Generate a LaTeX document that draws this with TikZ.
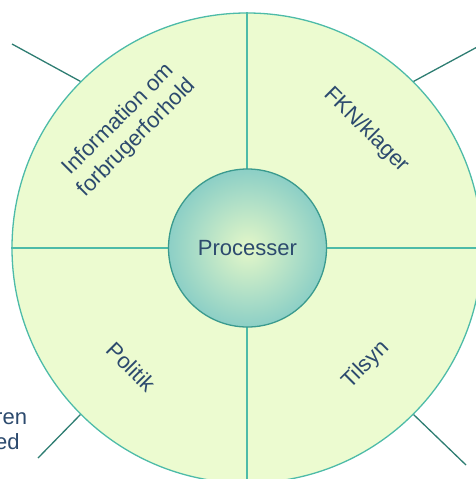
\documentclass[tikz,border=0pt]{standalone}
\usepackage{fontspec}
\setmainfont{Liberation Sans}
\definecolor{sectorfill}{HTML}{ECFBD0}
\definecolor{rimteal}{HTML}{4DBBA8}
\definecolor{leadteal}{HTML}{2E7D72}
\definecolor{coreedge}{HTML}{3A9A8E}
\definecolor{corein}{HTML}{E4F7C8}
\definecolor{coreout}{HTML}{8CCFC6}
\definecolor{labelblue}{HTML}{2C4A6E}
\begin{document}
\begin{tikzpicture}[x=1pt,y=-1pt,
  lbl/.style={text=labelblue,font=\fontsize{22}{26}\selectfont,inner sep=0pt,align=center},
  rim/.style={draw=rimteal,line width=1.3pt},
  lead/.style={draw=leadteal,line width=1.3pt}]
\useasboundingbox (0,0) rectangle (476,479);
\clip (0,0) rectangle (476,479);
% outer wheel with its four quarters
\node[circle,rim,fill=sectorfill,minimum size=470pt,inner sep=0pt] (outer) at (247,248) {};
\draw[rim] (outer.north) -- (outer.south);
\draw[rim] (outer.west) -- (outer.east);
% leader lines from the rim
\coordinate (tl) at (12,44);
\coordinate (tr) at (492,39);
\coordinate (bl) at (38,458);
\coordinate (br) at (466,465);
\draw[lead] (outer.135) -- (tl);
\draw[lead] (outer.45) -- (tr);
\draw[lead] (outer.225) -- (bl);
\draw[lead] (outer.315) -- (br);
% hub
\node[circle,draw=coreedge,line width=1.3pt,inner color=corein,outer color=coreout,
  minimum size=158pt,inner sep=0pt,lbl] (core) at (247.5,248) {Processer};
% quarter labels
\node[lbl,rotate=45] (info) at (128,129) {Information om\\forbrugerforhold};
\node[lbl,rotate=-45] (fkn) at (366,130) {FKN/klager};
\node[lbl,rotate=-45] (pol) at (131,367) {Politik};
\node[lbl,rotate=45] (til) at (366,365) {Tilsyn};
% side text
\node[lbl,align=left,anchor=base west] (side1) at (-5,424) {ren};
\node[lbl,align=left,anchor=base west] (side2) at (-5,449) {ed};
\end{tikzpicture}
\end{document}
